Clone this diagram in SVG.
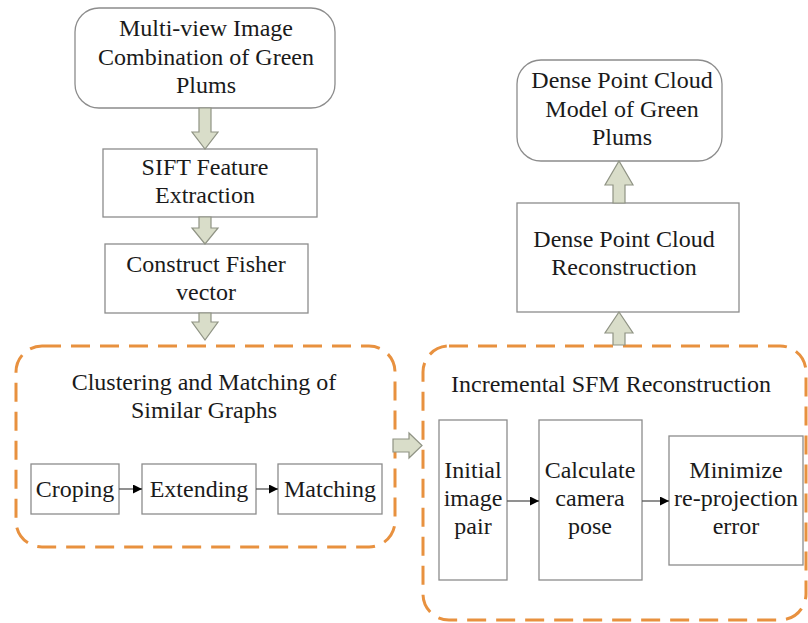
<svg xmlns="http://www.w3.org/2000/svg" width="808" height="623" viewBox="0 0 808 623">
  <style>
    .box { fill: #ffffff; stroke: #8c8c8c; stroke-width: 1.3; }
    .open { fill: none; stroke: #8c8c8c; stroke-width: 1.3; }
    .group { fill: none; stroke: #e8913f; stroke-width: 3; stroke-dasharray: 19 10; }
    .big { fill: #d9ddc9; stroke: #8f9384; stroke-width: 1.2; }
    .thin { stroke: #555555; stroke-width: 1.3; fill: none; }
    .lbl { fill: #1a1a1a; text-anchor: middle; font-size: 24px; }
  </style>
  <defs>
    <marker id="tip" viewBox="0 0 10 10" refX="10" refY="5" markerWidth="9" markerHeight="9" markerUnits="userSpaceOnUse" orient="auto">
      <path d="M0,0 L10,5 L0,10 z" fill="#000000"/>
    </marker>
  </defs>

  <rect width="808" height="623" fill="#ffffff"/>

  <!-- dashed stage groups -->
  <g id="stage-clustering">
    <rect class="group" x="16" y="346" width="379" height="201" rx="26" ry="26"/>
    <text class="lbl" font-family="Liberation Serif, serif" x="204" y="390">Clustering and Matching of</text>
    <text class="lbl" font-family="Liberation Serif, serif" x="204" y="418">Similar Graphs</text>
  </g>
  <g id="stage-sfm">
    <rect class="group" x="423" y="346" width="383" height="274" rx="26" ry="26"/>
    <text class="lbl" font-family="Liberation Serif, serif" x="611" y="392">Incremental SFM Reconstruction</text>
  </g>

  <!-- nodes -->
  <g id="input-images">
    <rect class="box" x="75" y="8" width="260" height="100" rx="24" ry="24"/>
    <text class="lbl" font-family="serif" x="206" y="36">Multi-view Image</text>
    <text class="lbl" font-family="serif" x="206" y="65">Combination of Green</text>
    <text class="lbl" font-family="serif" x="206" y="93">Plums</text>
  </g>
  <g id="sift">
    <rect class="box" x="103" y="149" width="214" height="68"/>
    <text class="lbl" font-family="Times New Roman, serif" x="205" y="175">SIFT Feature</text>
    <text class="lbl" font-family="Times New Roman, serif" x="205" y="203">Extraction</text>
  </g>
  <g id="fisher">
    <rect class="open" x="105" y="244" width="203" height="69"/>
    <text class="lbl" font-family="Liberation Serif, serif" x="206" y="272">Construct Fisher</text>
    <text class="lbl" font-family="Liberation Serif, serif" x="206" y="300">vector</text>
  </g>
  <g id="croping">
    <rect class="box" x="31" y="464" width="88" height="50"/>
    <text class="lbl" font-family="Liberation Serif, serif" x="75" y="497">Croping</text>
  </g>
  <g id="extending">
    <rect class="box" x="142" y="464" width="114" height="50"/>
    <text class="lbl" x="199" y="497"><tspan font-family="Liberation Serif, serif">Extending</tspan></text>
  </g>
  <g id="matching">
    <rect class="box" x="278" y="464" width="104" height="50"/>
    <text class="lbl" font-family="Liberation Serif, serif" x="330" y="497">Matching</text>
  </g>
  <g id="initial-pair">
    <rect class="box" x="439" y="420" width="68" height="160"/>
    <text class="lbl" font-family="Liberation Serif, serif" x="473" y="478">Initial</text>
    <text class="lbl" font-family="Liberation Serif, serif" x="473" y="506">image</text>
    <text class="lbl" font-family="Liberation Serif, serif" x="473" y="534">pair</text>
  </g>
  <g id="camera-pose">
    <rect class="box" x="539" y="420" width="103" height="160"/>
    <text class="lbl" font-family="Liberation Serif, serif" x="590" y="478">Calculate</text>
    <text class="lbl" font-family="Liberation Serif, serif" x="590" y="506">camera</text>
    <text class="lbl" font-family="Liberation Serif, serif" x="590" y="534">pose</text>
  </g>
  <g id="reprojection">
    <rect class="box" x="669" y="436" width="134" height="129"/>
    <text class="lbl" font-family="Liberation Serif, serif" x="736" y="478">Minimize</text>
    <text class="lbl" font-family="Liberation Serif, serif" x="736" y="506">re-projection</text>
    <text class="lbl" font-family="Liberation Serif, serif" x="736" y="534">error</text>
  </g>
  <g id="dense-recon">
    <rect class="box" x="517" y="203" width="222" height="109"/>
    <text class="lbl" font-family="Liberation Serif, serif" x="624" y="247">Dense Point Cloud</text>
    <text class="lbl" font-family="Liberation Serif, serif" x="624" y="275">Reconstruction</text>
  </g>
  <g id="dense-model">
    <rect class="box" x="517" y="60" width="205" height="101" rx="24" ry="24"/>
    <text class="lbl" font-family="Liberation Serif, serif" x="622" y="88">Dense Point Cloud</text>
    <text class="lbl" font-family="Liberation Serif, serif" x="622" y="117">Model of Green</text>
    <text class="lbl" font-family="Liberation Serif, serif" x="622" y="145">Plums</text>
  </g>

  <!-- connectors -->
  <g id="connectors">
    <!-- block arrows -->
    <polygon class="big" points="199,108 211,108 211,132 218,132 205,149 192,132 199,132"/>
    <polygon class="big" points="199,217 211,217 211,228 218,228 205,244 192,228 199,228"/>
    <polygon class="big" points="199,313 211,313 211,322 218,322 205,340 192,322 199,322"/>
    <polygon class="big" points="393,439 409,439 409,433 422,445.5 409,458 409,452 393,452"/>
    <polygon class="big" points="613,203 625,203 625,185 633,185 619,161 605,185 613,185"/>
    <polygon class="big" points="613,345 625,345 625,333 633,333 619,312 605,333 613,333"/>
    <!-- thin arrows -->
    <line class="thin" marker-end="url(#tip)" x1="119" y1="489" x2="142" y2="489"/>
    <line class="thin" marker-end="url(#tip)" x1="256" y1="489" x2="278" y2="489"/>
    <line class="thin" marker-end="url(#tip)" x1="507" y1="501" x2="539" y2="501"/>
    <line class="thin" marker-end="url(#tip)" x1="642" y1="501" x2="669" y2="501"/>
  </g>
</svg>
